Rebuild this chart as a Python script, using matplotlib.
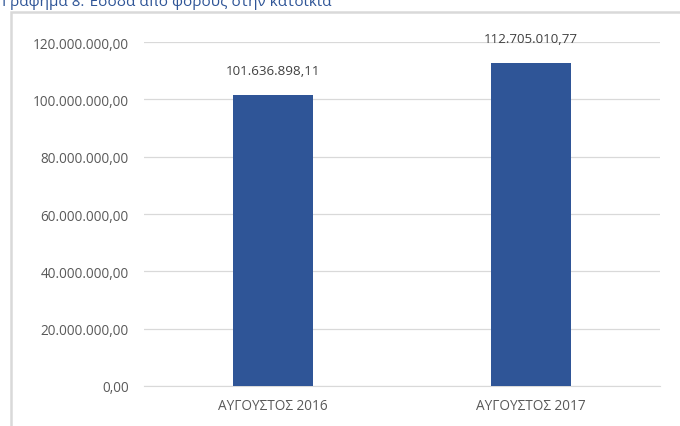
import matplotlib.pyplot as plt
from matplotlib.patches import Rectangle
from matplotlib.ticker import FuncFormatter

categories = ['ΑΥΓΟΥΣΤΟΣ 2016', 'ΑΥΓΟΥΣΤΟΣ 2017']
values = [101636898.11, 112705010.77]
yticks = [0, 20000000, 40000000, 60000000, 80000000, 100000000, 120000000]


def fmt(v, pos=None):
    s = f'{v:,.2f}'
    return s.replace(',', 'X').replace('.', ',').replace('X', '.')


plt.rcParams['font.family'] = ['Open Sans', 'DejaVu Sans']

fig = plt.figure(figsize=(6.8, 4.27), dpi=100)
ax = fig.add_axes([0.212, 0.0937, 0.759, 0.8055])

x = range(len(categories))
ax.bar(x, values, width=0.31, color='#2F5597', zorder=3)
for xi, v in zip(x, values):
    ax.annotate(fmt(v), (xi, v), xytext=(0, 13), textcoords='offset points',
                ha='center', va='bottom', fontsize=9.6, color='#404040')

ax.set_xlim(-0.5, 1.5)
ax.set_ylim(0, 120000000)
ax.set_yticks(yticks)
ax.yaxis.set_major_formatter(FuncFormatter(fmt))
ax.set_xticks(list(x))
ax.set_xticklabels(categories)
ax.tick_params(axis='both', length=0, labelsize=9.8, labelcolor='#595959')
ax.tick_params(axis='y', pad=11)
ax.tick_params(axis='x', pad=9)
ax.grid(axis='y', color='#d9d9d9', linewidth=0.9, zorder=0)
for s in ['top', 'right', 'left']:
    ax.spines[s].set_visible(False)
ax.spines['bottom'].set_color('#d9d9d9')

# outer chart frame
fig.patches.append(Rectangle((11 / 680, -0.1), 1.2, 1.1 - 13 / 427,
                             transform=fig.transFigure, fill=False,
                             edgecolor='#d9d9d9', linewidth=1.8))

fig.text(0.003, 1 - 6 / 427, 'Γράφημα 8: Έσοδα από φόρους στην κατοικία',
         color='#2F5597', fontsize=11, va='baseline', ha='left')

fig.savefig('out.png', dpi=100)
